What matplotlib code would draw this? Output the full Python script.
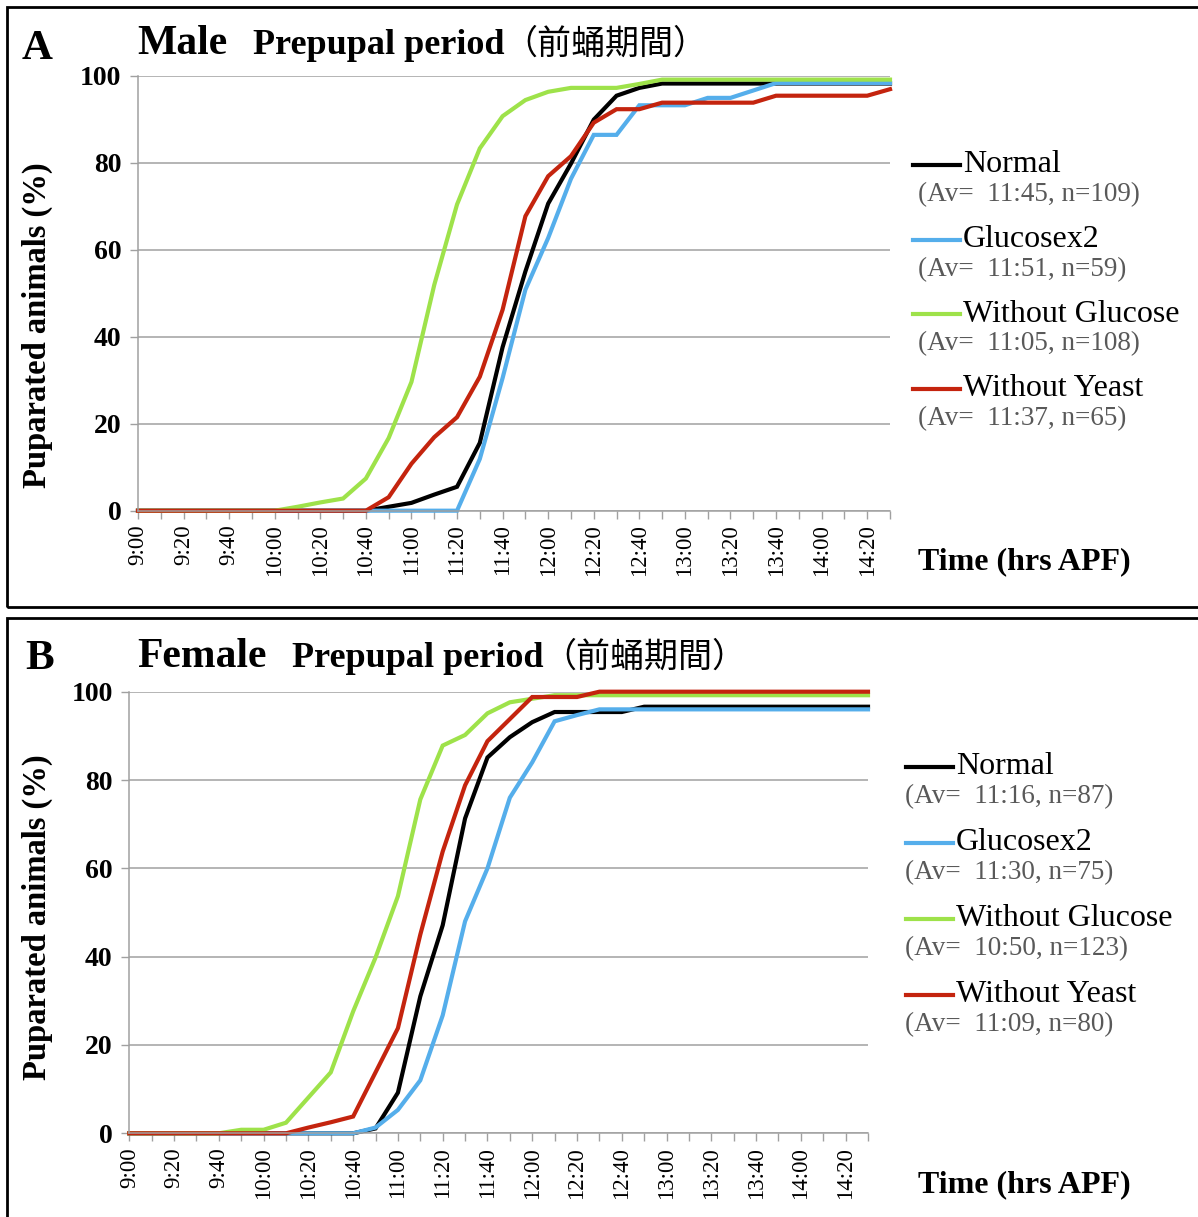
import numpy as np
import matplotlib.pyplot as plt
from matplotlib.patches import Rectangle
from matplotlib.lines import Line2D

plt.rcParams['font.family'] = ['Liberation Serif', 'Noto Sans CJK JP']

W, H = 1198, 1217

# time points, every 10 min from 9:00 to 14:30
time_cats = ["9:00", "9:10", "9:20", "9:30", "9:40", "9:50",
             "10:00", "10:10", "10:20", "10:30", "10:40", "10:50",
             "11:00", "11:10", "11:20", "11:30", "11:40", "11:50",
             "12:00", "12:10", "12:20", "12:30", "12:40", "12:50",
             "13:00", "13:10", "13:20", "13:30", "13:40", "13:50",
             "14:00", "14:10", "14:20", "14:30"]

series_names = ["Normal", "Glucosex2", "Without Glucose", "Without Yeast"]
colors = ["#000000", "#55AEEB", "#9EE24A", "#C4240E"]

# male (% puparated)
normal_m = [0] * 11 + [0.9, 1.8, 3.7, 5.5, 15.6, 37.6, 55.0, 70.6, 79.8, 89.9,
                       95.4, 97.2] + [98.2] * 11
glucose2_m = [0] * 15 + [11.9, 30.5, 50.8, 62.7, 76.3, 86.4, 86.4, 93.2, 93.2,
                         93.2, 94.9, 94.9, 96.6] + [98.3] * 6
noglucose_m = [0] * 7 + [0.9, 1.9, 2.8, 7.4, 16.7, 29.6, 51.9, 70.4, 83.3, 90.7,
                         94.4, 96.3, 97.2, 97.2, 97.2, 98.1] + [99.1] * 11
noyeast_m = [0] * 11 + [3.1, 10.8, 16.9, 21.5, 30.8, 46.2, 67.7, 76.9, 81.5,
                        89.2, 92.3, 92.3] + [93.8] * 5 + [95.4] * 5 + [96.9]
avg_m = ["(Av=  11:45, n=109)", "(Av=  11:51, n=59)",
         "(Av=  11:05, n=108)", "(Av=  11:37, n=65)"]

# female (% puparated)
normal_f = [0] * 11 + [1.1, 9.2, 31.0, 47.1, 71.3, 85.1, 89.7, 93.1, 95.4, 95.4,
                       95.4, 95.4] + [96.6] * 11
glucose2_f = [0] * 11 + [1.3, 5.3, 12.0, 26.7, 48.0, 60.0, 76.0, 84.0, 93.3,
                         94.7] + [96.0] * 13
noglucose_f = [0] * 5 + [0.8, 0.8, 2.4, 8.1, 13.8, 27.6, 39.8, 53.7, 75.6, 87.8,
                         90.2, 95.1, 97.6, 98.4] + [99.2] * 15
noyeast_f = [0] * 8 + [1.3, 2.5, 3.8, 13.8, 23.8, 45.0, 63.8, 78.8, 88.8, 93.8,
                       98.8, 98.8, 98.8] + [100] * 13
avg_f = ["(Av=  11:16, n=87)", "(Av=  11:30, n=75)",
         "(Av=  10:50, n=123)", "(Av=  11:09, n=80)"]

yticks = [0, 20, 40, 60, 80, 100]

fig = plt.figure(figsize=(W / 100, H / 100), dpi=100)


def fx(px):
    return px / W


def fy(py):
    return 1 - py / H


def panel(rect, data, avgs, letter, sex, title_y, title_x, ylab_y, leg_x, av_x,
          leg_y0, leg_dy, box_top, box_bottom):
    fig.add_artist(Rectangle((fx(7), fy(box_bottom)), fx(1300) - fx(7),
                             fy(box_top) - fy(box_bottom), transform=fig.transFigure,
                             fill=False, ec='black', lw=2))
    ax = fig.add_axes(rect)
    x = np.arange(len(time_cats))
    for vals, c in zip(data, colors):
        ax.plot(x, vals, color=c, lw=3, solid_joinstyle='miter', clip_on=False)
    ax.set_xlim(0, len(time_cats) - 1)
    ax.set_ylim(0, 100)
    ax.set_xticks(x)
    ax.set_xticklabels([t if i % 2 == 0 else "" for i, t in enumerate(time_cats)],
                       rotation=90, fontsize=16.5)
    ax.set_yticks(yticks)
    ax.set_yticklabels([str(v) for v in yticks], fontsize=20, fontweight='bold')
    ax.tick_params(axis='x', length=6, width=1, color='#A0A0A0', pad=4)
    ax.tick_params(axis='y', length=6, width=1, color='#A0A0A0', pad=6)
    ax.grid(axis='y', color='#A0A0A0', lw=1.1)
    ax.set_axisbelow(True)
    for s in ['top', 'right']:
        ax.spines[s].set_visible(False)
    for s in ['left', 'bottom']:
        ax.spines[s].set_color('#A0A0A0')
        ax.spines[s].set_linewidth(1.1)

    fig.text(fx(37), fy(ylab_y), "Puparated animals (%)", fontsize=23.5,
             fontweight='bold', rotation=90, ha='center', va='center')

    fig.text(fx(title_x[0]), fy(title_y[0]), letter, fontsize=31,
             fontweight='bold', va='baseline')
    fig.text(fx(title_x[1]), fy(title_y[1]), sex, fontsize=30, fontweight='bold',
             va='baseline')
    fig.text(fx(title_x[2]), fy(title_y[1]), "Prepupal period", fontsize=26,
             fontweight='bold', va='baseline')
    fig.text(fx(title_x[3]), fy(title_y[1]), "（前蛹期間）", fontsize=24.5,
             family='Noto Sans CJK JP', va='baseline')
    fig.text(fx(918), fy(box_bottom - 45), "Time (hrs APF)", fontsize=23,
             fontweight='bold', va='center')

    for i, (name, c, av) in enumerate(zip(series_names, colors, avgs)):
        ly = leg_y0 + leg_dy * i
        fig.add_artist(Line2D([fx(leg_x), fx(leg_x + 47)], [fy(ly), fy(ly)],
                              transform=fig.transFigure, color=c, lw=3))
        fig.text(fx(leg_x + 50), fy(ly), name, fontsize=23, va='center')
        fig.text(fx(av_x), fy(ly + 30), av, fontsize=19.5, color='#595959',
                 va='center')
    return ax


panel([fx(138), fy(510.7), fx(890) - fx(138), fy(75.7) - fy(510.7)],
      [normal_m, glucose2_m, noglucose_m, noyeast_m], avg_m, "A", "Male",
      (59, 54), (22, 137, 253, 503), 325, 913, 918, 165, 74.5, 7, 607)
panel([fx(129.3), fy(1133.3), fx(868) - fx(129.3), fy(691.7) - fy(1133.3)],
      [normal_f, glucose2_f, noglucose_f, noyeast_f], avg_f, "B", "Female",
      (669, 667), (25, 137, 292, 542), 917, 906, 905, 767, 76, 618, 1230)

fig.savefig("out.png", dpi=100)
